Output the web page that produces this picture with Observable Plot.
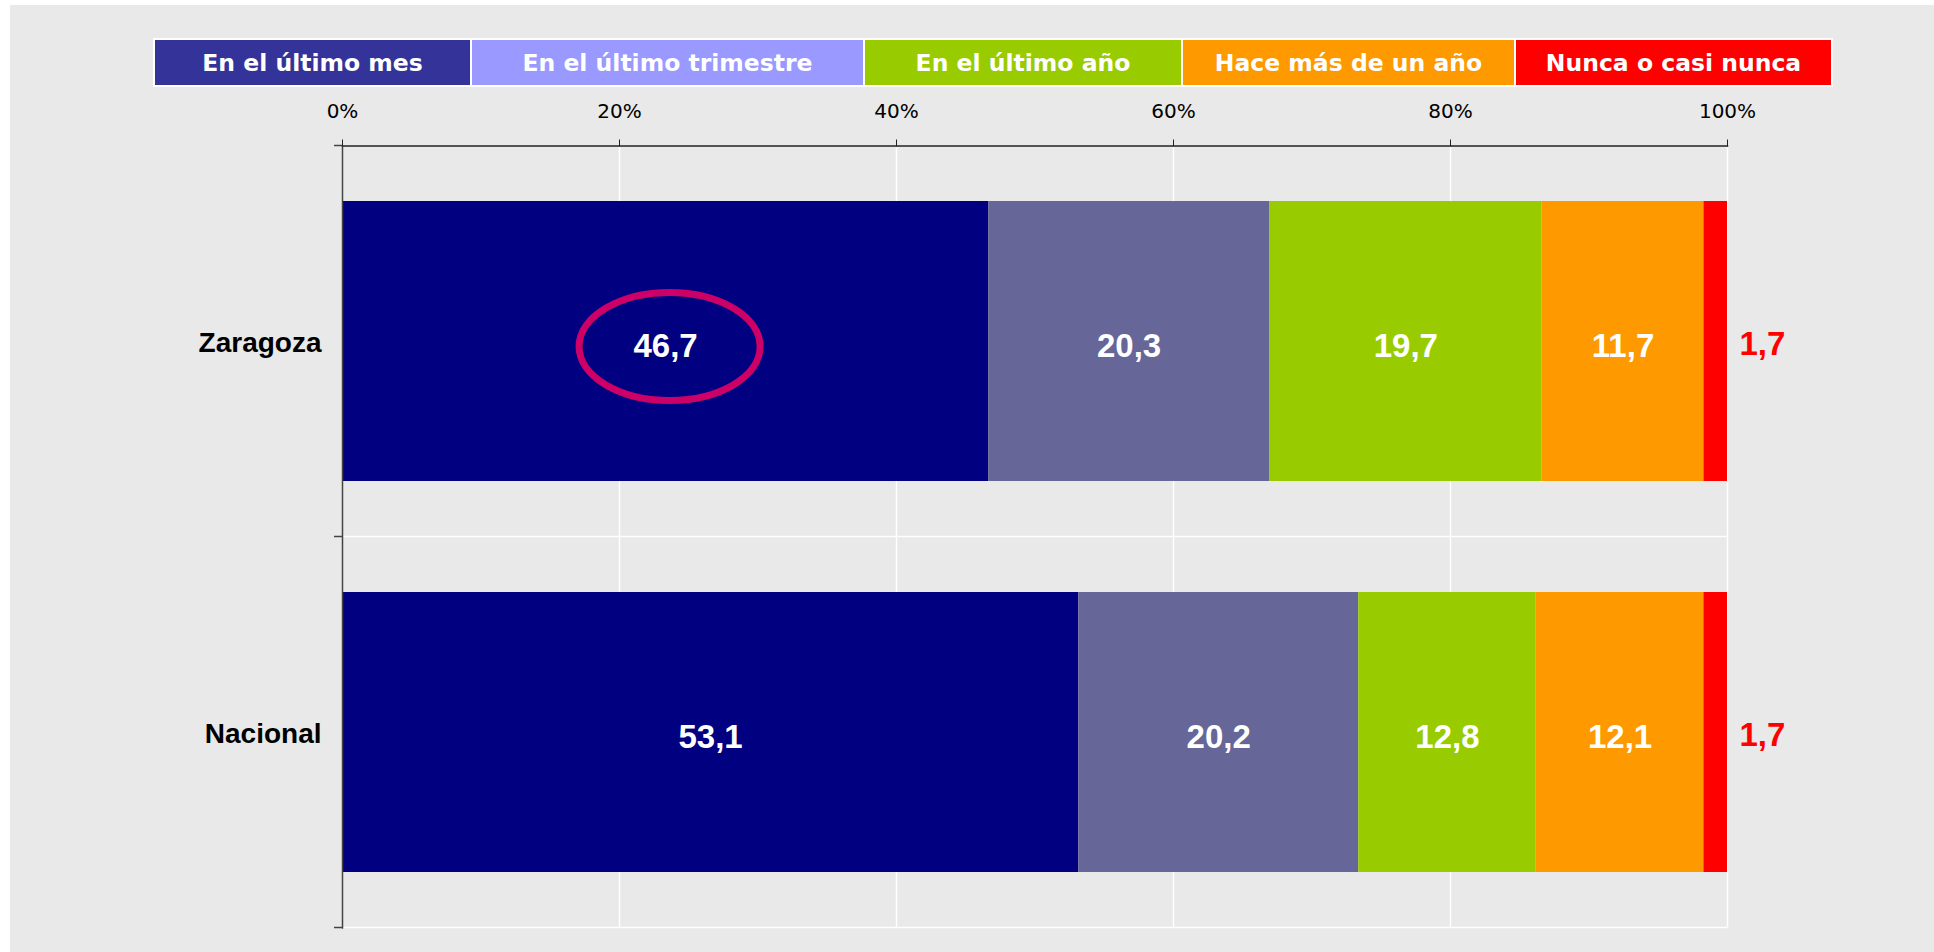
<!DOCTYPE html>
<html>
<head>
<meta charset="utf-8">
<script src="https://cdn.jsdelivr.net/npm/d3@7"></script>
<script src="https://cdn.jsdelivr.net/npm/@observablehq/plot@0.6"></script>
<style>
  html, body { margin: 0; padding: 0; background: #ffffff; }
  #wrap { position: relative; width: 1934px; height: 952px; overflow: hidden; }
  #bg { position: absolute; left: 10px; top: 5px; right: 0; bottom: 0; background: #e9e9e9; }
  #legend { position: absolute; left: 153px; top: 38px; display: flex; gap: 2px; padding: 2px; background: #ffffff; }
  #legend div { height: 45px; display: flex; align-items: center; justify-content: center;
    color: #ffffff; font-family: "DejaVu Sans", Verdana, sans-serif; font-weight: bold; font-size: 23.5px; white-space: nowrap; }
  #chart { position: absolute; left: 10px; top: 95px; }
</style>
</head>
<body>
<div id="wrap">
  <div id="bg"></div>
  <div id="legend"></div>
  <div id="chart"></div>
</div>
<script>
// ---- data ----
const regions = ["Zaragoza", "Nacional"];
const categories = ["En el último mes", "En el último trimestre", "En el último año", "Hace más de un año", "Nunca o casi nunca"];
const zaragozaValues = [46.7, 20.3, 19.7, 11.7, 1.7];
const nacionalValues = [53.1, 20.2, 12.8, 12.1, 1.7];
const xTicks = [0, 0.2, 0.4, 0.6, 0.8, 1];
const barColors = ["#000080", "#666699", "#99cc00", "#ff9900", "#ff0000"];
const legendColors = ["#333399", "#9999ff", "#99cc00", "#ff9900", "#ff0000"];
const legendWidths = [315, 391, 316, 331, 315];
const highlight = {region: "Zaragoza", cat: "En el último mes"};

const seriesByRegion = [zaragozaValues, nacionalValues];
const data = regions.flatMap((r, i) => seriesByRegion[i].map((v, j) => ({region: r, cat: categories[j], value: v})));
const lastCat = categories[categories.length - 1];
const fmt = v => v.toFixed(1).replace(".", ",");

// ---- legend ----
const legend = document.getElementById("legend");
categories.forEach((c, i) => {
  const d = document.createElement("div");
  d.textContent = c;
  d.style.background = legendColors[i];
  d.style.width = legendWidths[i] + "px";
  legend.appendChild(d);
});

// ellipse symbol for the highlight
const ellipseSymbol = {
  draw(ctx) {
    const rx = 90.5, ry = 54, k = 0.5522847498;
    ctx.moveTo(rx, 0);
    ctx.bezierCurveTo(rx, ry * k, rx * k, ry, 0, ry);
    ctx.bezierCurveTo(-rx * k, ry, -rx, ry * k, -rx, 0);
    ctx.bezierCurveTo(-rx, -ry * k, -rx * k, -ry, 0, -ry);
    ctx.bezierCurveTo(rx * k, -ry, rx, -ry * k, rx, 0);
    ctx.closePath();
  }
};

// band boundaries: white horizontal gridlines and left ticks
function bandBoundaries(index, scales, values, dimensions) {
  const {marginTop, marginBottom, marginLeft, marginRight, width, height} = dimensions;
  const n = regions.length;
  const h = (height - marginTop - marginBottom) / n;
  const g = d3.create("svg:g");
  for (let i = 1; i <= n; i++) {
    g.append("line").attr("x1", marginLeft).attr("x2", width - marginRight)
      .attr("y1", marginTop + i * h).attr("y2", marginTop + i * h)
      .attr("stroke", "#ffffff").attr("stroke-width", 1.5);
  }
  for (let i = 0; i <= n; i++) {
    g.append("line").attr("x1", marginLeft - 8).attr("x2", marginLeft)
      .attr("y1", marginTop + i * h).attr("y2", marginTop + i * h)
      .attr("stroke", "#444").attr("stroke-width", 1.5);
  }
  return g.node();
}

const labelFont = '"Liberation Sans", Arial, sans-serif';

const chart = Plot.plot({
  width: 1924,
  height: 857,
  marginLeft: 332,
  marginRight: 207,
  marginTop: 50.5,
  marginBottom: 24.5,
  style: {background: "transparent", color: "#000", overflow: "visible"},
  x: {domain: [0, 1]},
  y: {domain: regions, paddingInner: 0.283, paddingOuter: 0.1415},
  color: {domain: categories, range: barColors},
  marks: [
    Plot.gridX(xTicks.slice(1), {stroke: "#ffffff", strokeOpacity: 1, strokeWidth: 1.5}),
    bandBoundaries,
    Plot.barX(data, Plot.stackX({x: "value", y: "region", fill: "cat", offset: "normalize"})),
    Plot.frame({anchor: "top", stroke: "#222", strokeWidth: 1.5}),
    Plot.frame({anchor: "left", stroke: "#444", strokeWidth: 1.5}),
    Plot.axisX({anchor: "top", label: null, ticks: xTicks, tickFormat: d3.format(".0%"), tickSize: 7, tickPadding: 21,
      fontSize: 20, fontFamily: '"DejaVu Sans", Verdana, sans-serif', stroke: "#222"}),
    Plot.axisY({anchor: "left", label: null, tickSize: 0, tickPadding: 21, dy: 2, fontSize: 28, fontWeight: "bold", fontFamily: labelFont}),
    Plot.dot(data, Plot.stackX({x: "value", y: "region", offset: "normalize",
      symbol: ellipseSymbol, fill: "none", stroke: "#cc0066", strokeWidth: 7, dx: 4, dy: 5,
      strokeOpacity: d => (d.region === highlight.region && d.cat === highlight.cat) ? 1 : 0})),
    Plot.text(data, Plot.stackX({x: "value", y: "region", offset: "normalize",
      text: d => d.cat === lastCat ? "" : fmt(d.value), dy: 5,
      fill: "#ffffff", fontSize: 33, fontWeight: "bold", fontFamily: labelFont})),
    Plot.text(data, Plot.stackX2({x: "value", y: "region", offset: "normalize",
      text: d => d.cat === lastCat ? fmt(d.value) : "", dy: 3,
      textAnchor: "start", dx: 12, fill: "#ff0000", fontSize: 33, fontWeight: "bold", fontFamily: labelFont}))
  ]
});
document.getElementById("chart").appendChild(chart);
</script>
</body>
</html>
